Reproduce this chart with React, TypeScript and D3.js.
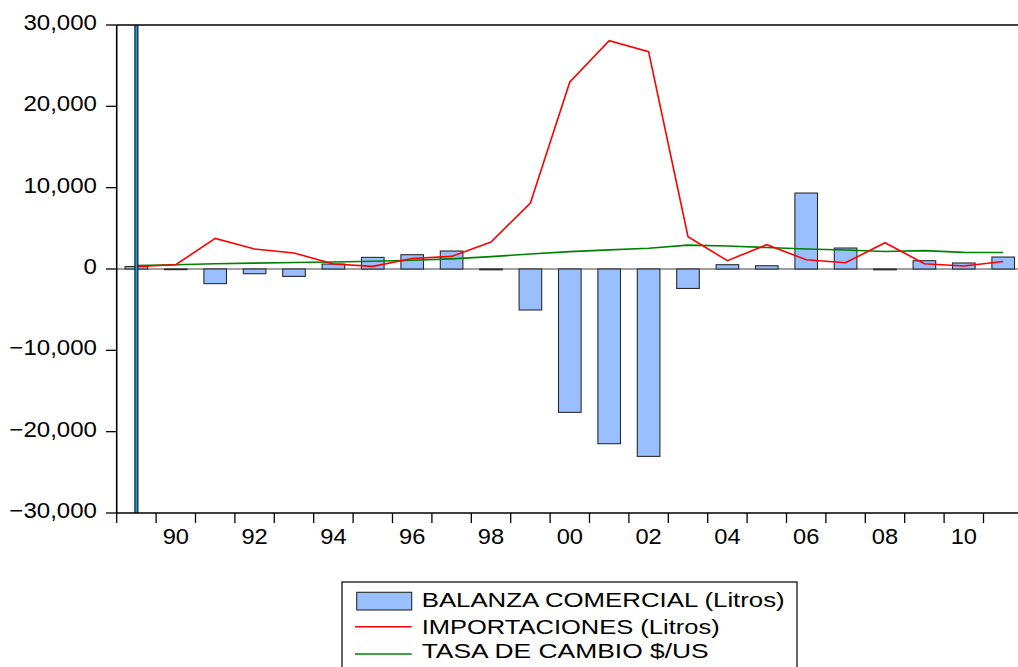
import React from "react";
import * as d3 from "d3";

const years: number[] = [1989,1990,1991,1992,1993,1994,1995,1996,1997,1998,1999,2000,2001,2002,2003,2004,2005,2006,2007,2008,2009,2010,2011];
const balanza: number[] = [300,-80,-1800,-580,-910,610,1430,1760,2210,-100,-5040,-17630,-21480,-23040,-2390,530,400,9340,2580,-100,1020,740,1470];
const importaciones: number[] = [300,530,3760,2460,1970,620,320,1300,1550,3320,8110,22990,28070,26720,3970,1020,2990,1140,770,3230,650,370,930];
const tasaCambio: number[] = [420,520,640,720,800,860,960,1080,1250,1520,1850,2140,2350,2560,2930,2830,2640,2460,2330,2150,2260,2040,2020];
const yTicks: number[] = [-30000,-20000,-10000,0,10000,20000,30000];
const xLabelYears: number[] = [1990,1992,1994,1996,1998,2000,2002,2004,2006,2008,2010];
const legendLabels: string[] = ["BALANZA COMERCIAL (Litros)", "IMPORTACIONES (Litros)", "TASA DE CAMBIO $/US"];

const FONT = "'Liberation Sans', Arial, Helvetica, sans-serif";

export default function App() {
  const left = 116.7, top = 25, bottom = 513;
  const step = 39.4;
  const x = d3.scaleLinear().domain([1988.5, 2011.5]).range([left, left + 23 * step]);
  const y = d3.scaleLinear().domain([-30000, 30000]).range([bottom, top]);
  const bw = 22.6;
  const fmt = d3.format(",");
  const lineGen = d3.line<[number, number]>().x(d => x(d[0])).y(d => y(d[1]));
  const redPts = years.map((yr, i) => [yr, importaciones[i]] as [number, number]);
  const greenPts = years.map((yr, i) => [yr, tasaCambio[i]] as [number, number]);
  const boundaries = d3.range(1988.5, 2012, 1);
  const right = x(2011.5);

  return (
    <svg width={1018} height={667} style={{ position: "absolute", left: 0, top: 0, background: "#fff" }}>
      <rect x={0} y={0} width={1018} height={667} fill="#fff" />
      {/* zero line */}
      <line x1={left} x2={right} y1={y(0)} y2={y(0)} stroke="#808080" strokeWidth={1.6} />
      {/* bars */}
      {years.map((yr, i) => {
        const v = balanza[i];
        const y0 = y(Math.max(0, v));
        const h = Math.abs(y(v) - y(0));
        return (
          <rect key={yr} x={x(yr) - bw / 2} y={y0} width={bw} height={Math.max(h, 0.5)}
            fill="#99bfff" stroke="#2b2b2b" strokeWidth={1.1} />
        );
      })}
      {/* lines */}
      <path d={lineGen(greenPts) || ""} fill="none" stroke="#008000" strokeWidth={1.6} />
      <path d={lineGen(redPts) || ""} fill="none" stroke="#ff0000" strokeWidth={1.6} />
      {/* blue vertical marker */}
      <rect x={x(1989) - 2} y={top} width={4} height={bottom - top} fill="#000" />
      <rect x={x(1989) - 1} y={top} width={2} height={bottom - top} fill="#1f9ddf" />
      {/* frame */}
      <line x1={left} x2={right} y1={top} y2={top} stroke="#000" strokeWidth={1.6} />
      <line x1={left} x2={right} y1={bottom} y2={bottom} stroke="#000" strokeWidth={1.6} />
      <line x1={left} x2={left} y1={top} y2={bottom} stroke="#000" strokeWidth={1.6} />
      <line x1={right} x2={right} y1={top} y2={bottom} stroke="#000" strokeWidth={1.6} />
      {/* y ticks */}
      {yTicks.map(t => (
        <g key={t}>
          <line x1={106} x2={left} y1={y(t)} y2={y(t)} stroke="#000" strokeWidth={1.3} />
          <text transform={`translate(97,${y(t) + 5}) scale(1.12,1)`} textAnchor="end"
            fontFamily={FONT} fontSize={21.5} fill="#000">{fmt(t)}</text>
        </g>
      ))}
      {/* x ticks */}
      {boundaries.map(b => (
        <line key={b} x1={x(b)} x2={x(b)} y1={bottom} y2={bottom + 10} stroke="#000" strokeWidth={1.3} />
      ))}
      {xLabelYears.map(yr => (
        <text key={yr} transform={`translate(${x(yr)},544) scale(1.1,1)`} textAnchor="middle"
          fontFamily={FONT} fontSize={21.5} fill="#000">{String(yr % 100).padStart(2, "0")}</text>
      ))}
      {/* legend */}
      <rect x={342} y={582} width={455} height={110} fill="#fff" stroke="#000" strokeWidth={1.2} />
      <rect x={356.7} y={592.3} width={55} height={17.7} fill="#99bfff" stroke="#2b2b2b" strokeWidth={1.1} />
      <line x1={355} x2={411.7} y1={626.7} y2={626.7} stroke="#ff0000" strokeWidth={1.6} />
      <line x1={355} x2={411.7} y1={654} y2={654} stroke="#008000" strokeWidth={1.6} />
      {legendLabels.map((lab, i) => (
        <text key={lab} x={421.7} y={[606.7, 634.3, 658.3][i]} fontFamily={FONT} fontSize={21}
          textLength={[363, 298, 287][i]} lengthAdjust="spacingAndGlyphs" fill="#000">{lab}</text>
      ))}
    </svg>
  );
}
